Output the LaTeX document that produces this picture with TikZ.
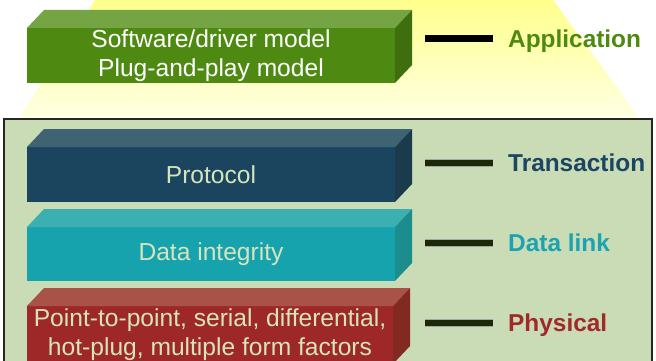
\documentclass[tikz,border=0pt]{standalone}
\usepackage{fontspec}
\setmainfont{Liberation Sans}
\definecolor{appF}{HTML}{4E8A12}
\definecolor{appT}{HTML}{75A444}
\definecolor{appS}{HTML}{3E6E0E}
\definecolor{proF}{HTML}{1B455F}
\definecolor{proT}{HTML}{3E6474}
\definecolor{proS}{HTML}{1A3B4C}
\definecolor{datF}{HTML}{17A3AE}
\definecolor{datT}{HTML}{3CAFB0}
\definecolor{datS}{HTML}{1A8D8C}
\definecolor{phyF}{HTML}{9E2828}
\definecolor{phyT}{HTML}{A85248}
\definecolor{phyS}{HTML}{822A22}
\definecolor{cream}{HTML}{D6E4BC}
\definecolor{boxbg}{HTML}{C9DCB6}
\definecolor{lineDk}{HTML}{1C2808}
\definecolor{appL}{HTML}{4F8A10}
\definecolor{traL}{HTML}{1B4562}
\definecolor{datL}{HTML}{1BA3B2}
\definecolor{phyL}{HTML}{A02A2A}
\tikzset{
  front/.style={minimum width=368pt, inner sep=0pt, outer sep=0pt, align=center,
    anchor=north west, font=\fontsize{24.6}{28.8}\selectfont},
  lbl/.style={font=\bfseries\fontsize{24.4}{29}\selectfont, anchor=base west, inner sep=0pt},
  conn/.style={line width=7pt, draw=black},
  conndk/.style={double=lineDk, double distance=6.6pt, draw=gray!70, line width=0.5pt},
}
\newcommand{\slabfaces}[3]{%
  \fill[#2] (#1.north west) -- ++(17,-18) -- ([shift={(17,-18)}]#1.north east) -- (#1.north east) -- cycle;
  \fill[#3] (#1.north east) -- ++(17,-18) -- ([shift={(17,-18)}]#1.south east) -- (#1.south east) -- cycle;
}
\begin{document}
\begin{tikzpicture}[x=1pt,y=-1pt]
\useasboundingbox (0,0) rectangle (656,361);
\fill[white] (0,0) rectangle (656,361);
% yellow light cone
\shade[top color={rgb,255:red,255;green,255;blue,140}, bottom color={rgb,255:red,255;green,255;blue,228}]
  (95,0) -- (553,0) -- (640,119) -- (18,119) -- cycle;
% container
\draw[fill=boxbg, draw=black!85, line width=1.3pt] (4,119) rectangle (652,372);
% application block
\node[front, fill=appF, text=white, minimum height=55pt] (app) at (27,28) {Software/driver model\\Plug-and-play model};
\slabfaces{app}{appT}{appS}
% protocol
\node[front, fill=proF, text=cream, minimum height=55pt] (pro) at (27,147) {Protocol};
\slabfaces{pro}{proT}{proS}
% data integrity
\node[front, fill=datF, text=cream, minimum height=54pt] (dat) at (27,227) {Data integrity};
\slabfaces{dat}{datT}{datS}
% physical
\node[front, fill=phyF, text=cream, minimum height=58pt, minimum width=366pt] (phy) at (27,306) {Point-to-point, serial, differential,\\hot-plug, multiple form factors};
\slabfaces{phy}{phyT}{phyS}
% labels
\node[lbl, text=appL] (appLbl) at (508,47.6) {Application};
\node[lbl, text=traL] (traLbl) at (508,171.6) {Transaction};
\node[lbl, text=datL] (datLbl) at (508,251.6) {Data link};
\node[lbl, text=phyL] (phyLbl) at (508,331.6) {Physical};
% connector start points
\coordinate (appC) at (425,39);
\coordinate (traC) at (425,163);
\coordinate (datC) at (425,243);
\coordinate (phyC) at (425,323);
\draw[conn] (appC) -- ([shift={(-15pt,8.6pt)}]appLbl.base west);
\draw[conndk] (traC) -- ([shift={(-15pt,8.6pt)}]traLbl.base west);
\draw[conndk] (datC) -- ([shift={(-15pt,8.6pt)}]datLbl.base west);
\draw[conndk] (phyC) -- ([shift={(-15pt,8.6pt)}]phyLbl.base west);
\end{tikzpicture}
\end{document}
